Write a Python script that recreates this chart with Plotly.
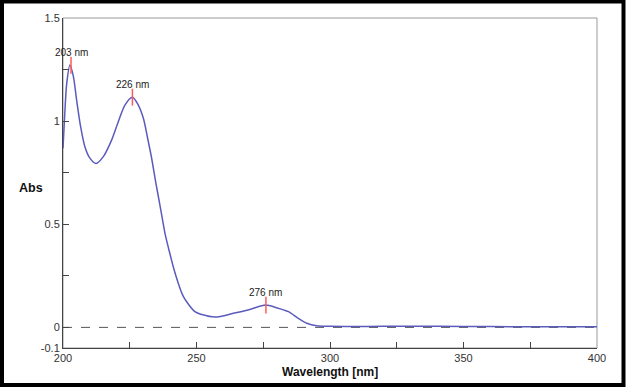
import plotly.graph_objects as go

# Spectrum
wavelength = [200, 200.6, 201.4, 202.6, 203.9, 205.1, 206.6, 208.2, 210, 212.4, 215.1,
              218.2, 220.7, 223.2, 226, 228.2, 230.1, 231.7, 233.2, 234.7, 236.3,
              238.2, 239.5, 242, 245.1, 249.4, 252, 257, 263.8, 270, 275.9, 280, 284.4,
              288.1, 291.3, 295, 300, 320, 340, 360, 380, 400]
absorbance = [0.868, 1.02, 1.183, 1.272, 1.216, 1.102, 0.973, 0.876, 0.822, 0.795, 0.828,
              0.908, 0.997, 1.078, 1.116, 1.078, 1.014, 0.917, 0.820, 0.706, 0.593,
              0.456, 0.385, 0.262, 0.149, 0.076, 0.062, 0.050, 0.068, 0.087, 0.108, 0.095,
              0.076, 0.044, 0.020, 0.008, 0.005, 0.005, 0.005, 0.004, 0.003, 0.003]

peak_wl = [203, 226, 276]
peak_abs = [1.27, 1.116, 0.108]
peak_labels = ["203 nm", "226 nm", "276 nm"]

x_ticks = [200, 225, 250, 275, 300, 325, 350, 375, 400]
x_ticktext = ["200", "", "250", "", "300", "", "350", "", "400"]
y_ticks = [-0.1, 0, 0.25, 0.5, 0.75, 1, 1.25, 1.5]
y_ticktext = ["-0.1", "0", "", "0.5", "", "1", "", "1.5"]

W, H = 626, 387
L, R, T, B = 63, 29, 18, 39
pw, ph = W - L - R, H - T - B
FONT = "Liberation Sans, Arial"

fig = go.Figure()

# zero baseline (dashed)
fig.add_trace(go.Scatter(x=[200, 400], y=[0, 0], mode="lines",
                         line=dict(color="#555555", width=1, dash="dash"),
                         hoverinfo="skip", showlegend=False))

fig.add_trace(go.Scatter(x=wavelength, y=absorbance, mode="lines",
                         line=dict(color="#5b5bbd", width=1.5, shape="spline", smoothing=0.8),
                         showlegend=False))

fig.add_trace(go.Scatter(x=peak_wl, y=peak_abs, mode="markers",
                         marker=dict(symbol="line-ns", size=12,
                                     line=dict(color="#ff5a5a", width=1.5)),
                         cliponaxis=False, showlegend=False))

annotations = [
    dict(x=px, y=py, text=lab, xref="x", yref="y", showarrow=False,
         xanchor="center", yanchor="bottom", yshift=5,
         font=dict(family=FONT, size=10, color="#222222"))
    for px, py, lab in zip(peak_wl, peak_abs, peak_labels)
]
annotations += [
    dict(text="<b>Abs</b>", xref="paper", yref="paper",
         x=(31 - L) / pw, y=(H - B - 188) / ph, showarrow=False,
         xanchor="center", yanchor="middle",
         font=dict(family=FONT, size=12.5, color="#111111")),
    dict(text="<b>Wavelength [nm]</b>", xref="paper", yref="paper",
         x=(330 - L) / pw, y=(H - B - 372) / ph, showarrow=False,
         xanchor="center", yanchor="middle",
         font=dict(family=FONT, size=12, color="#111111")),
]

axis_common = dict(showline=True, linecolor="#444444", linewidth=1, ticks="inside",
                   ticklen=6, tickcolor="#444444", showgrid=False, zeroline=False,
                   tickfont=dict(family=FONT, size=11, color="#333333"))

fig.update_layout(
    width=W, height=H,
    margin=dict(l=L, r=R, t=T, b=B),
    paper_bgcolor="white", plot_bgcolor="white",
    xaxis=dict(range=[200, 400], tickvals=x_ticks, ticktext=x_ticktext, **axis_common),
    yaxis=dict(range=[-0.1, 1.5], tickvals=y_ticks, ticktext=y_ticktext, **axis_common),
    shapes=[
        dict(type="rect", xref="paper", yref="paper", x0=0, x1=1, y0=0, y1=1,
             line=dict(color="#999999", width=1), layer="below"),
        dict(type="rect", xref="paper", yref="paper",
             x0=(2 - L) / pw, x1=(W - 2.5 - L) / pw,
             y0=(H - B - (H - 2)) / ph, y1=(H - B - 1.5) / ph,
             line=dict(color="black", width=4)),
    ],
    annotations=annotations,
)

fig.write_html("out.html", config={"displayModeBar": False},
               post_script="document.body.style.margin='0';document.body.style.overflow='hidden';")
